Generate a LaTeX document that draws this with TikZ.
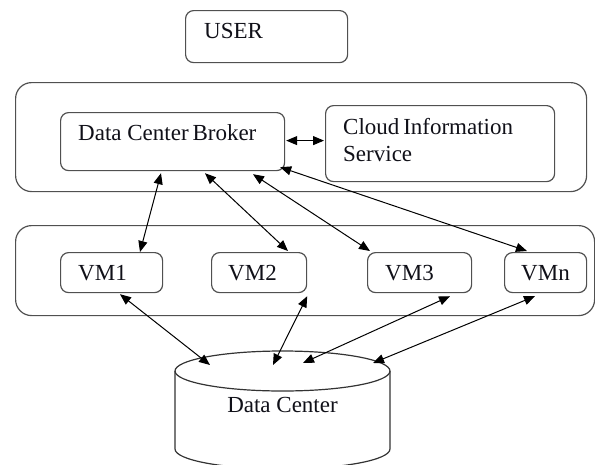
\documentclass[tikz,border=0pt]{standalone}
\usepackage{fontspec}
\setmainfont{Liberation Serif}
\usetikzlibrary{arrows.meta,calc}
\definecolor{edgegray}{HTML}{505050}
\definecolor{inkcol}{HTML}{101018}
\begin{document}
\begin{tikzpicture}[x=1pt,y=-1pt,
  box/.style={draw=edgegray, line width=1.2pt, rounded corners=8pt,
              anchor=north west, inner sep=0pt},
  frame/.style={box, rounded corners=16pt},
  lbl/.style={anchor=base west, inner sep=0pt, text=inkcol,
              font=\fontsize{23}{27}\selectfont},
  link/.style={draw=black, line width=1pt, {Triangle[length=11pt,width=9pt]}-{Triangle[length=11pt,width=9pt]}},
  drum/.style={draw=black!80, line width=1.2pt}
]
\useasboundingbox (0,0) rectangle (595,464);
\clip (0,0) rectangle (595,464);

% layers
\node[frame, minimum width=571, minimum height=109] (cloud) at (15,82) {};
\node[frame, minimum width=579, minimum height=90] (vmlayer) at (15,225) {};

% user
\node[box, minimum width=162, minimum height=52] (user) at (185,10) {};
\node[lbl] (userlabel) at ($(user.north west)+(19,28.5)$) {USER};

% broker and information service
\node[box, minimum width=224, minimum height=58] (broker) at (60,112) {};
\node[lbl] (brokerlabel) at ($(broker.north west)+(18,28)$) {Data Center\,Broker};
\node[box, minimum width=229, minimum height=76] (cis) at (325,105) {};
\node[lbl] (cislabel) at ($(cis.north west)+(18,29)$) {Cloud\,Information};
\node[lbl] (cislabelb) at ($(cis.north west)+(18,56)$) {Service};

% virtual machines
\node[box, minimum width=102, minimum height=40] (vm1) at (60,252) {};
\node[box, minimum width=95,  minimum height=40] (vm2) at (211,252) {};
\node[box, minimum width=104, minimum height=40] (vm3) at (367,252) {};
\node[box, minimum width=82,  minimum height=40] (vmn) at (504,252) {};
\node[lbl] (vm1label) at ($(vm1.north west)+(18,28)$) {VM1};
\node[lbl] (vm2label) at ($(vm2.north west)+(17,28)$) {VM2};
\node[lbl] (vm3label) at ($(vm3.north west)+(18,28)$) {VM3};
\node[lbl] (vmnlabel) at ($(vmn.north west)+(17,28)$) {VMn};

% data center drum
\draw[drum] (282.5,371) ellipse [x radius=107.5, y radius=20];
\draw[drum] (175,371) -- (175,449)
            arc[start angle=180, end angle=0, x radius=107.5, y radius=20]
            -- (390,371);
\node[lbl, anchor=base] (dclabel) at (282.5,412) {Data Center};
\coordinate (dca) at (210,365);
\coordinate (dcb) at (273,365);
\coordinate (dcc) at (303,363);
\coordinate (dcd) at (373,363);

% broker <-> information service
\draw[link] ($(broker.east)+(1,-1)$) -- ($(broker.east -| cis.west)+(-1,-1)$);

% broker <-> virtual machines
\draw[link] ($(broker.south west)+(101,2)$) -- ($(vm1.north west)+(80,0)$);
\draw[link] ($(broker.south west)+(145,2)$) -- ($(vm2.north west)+(77,-1)$);
\draw[link] ($(broker.south west)+(193,3)$) -- ($(vm3.north west)+(3,-1)$);
\draw[link] ($(broker.south east)+(-5,-4)$) -- ($(vmn.north west)+(23,-1)$);

% virtual machines <-> data center
\draw[link] ($(vm1.south west)+(60,1)$) -- (dca);
\draw[link] ($(vm2.south east)+(0,3)$) -- (dcb);
\draw[link] ($(vm3.south west)+(83,3)$) -- (dcc);
\draw[link] ($(vmn.south west)+(31,3)$) -- (dcd);
\end{tikzpicture}
\end{document}
